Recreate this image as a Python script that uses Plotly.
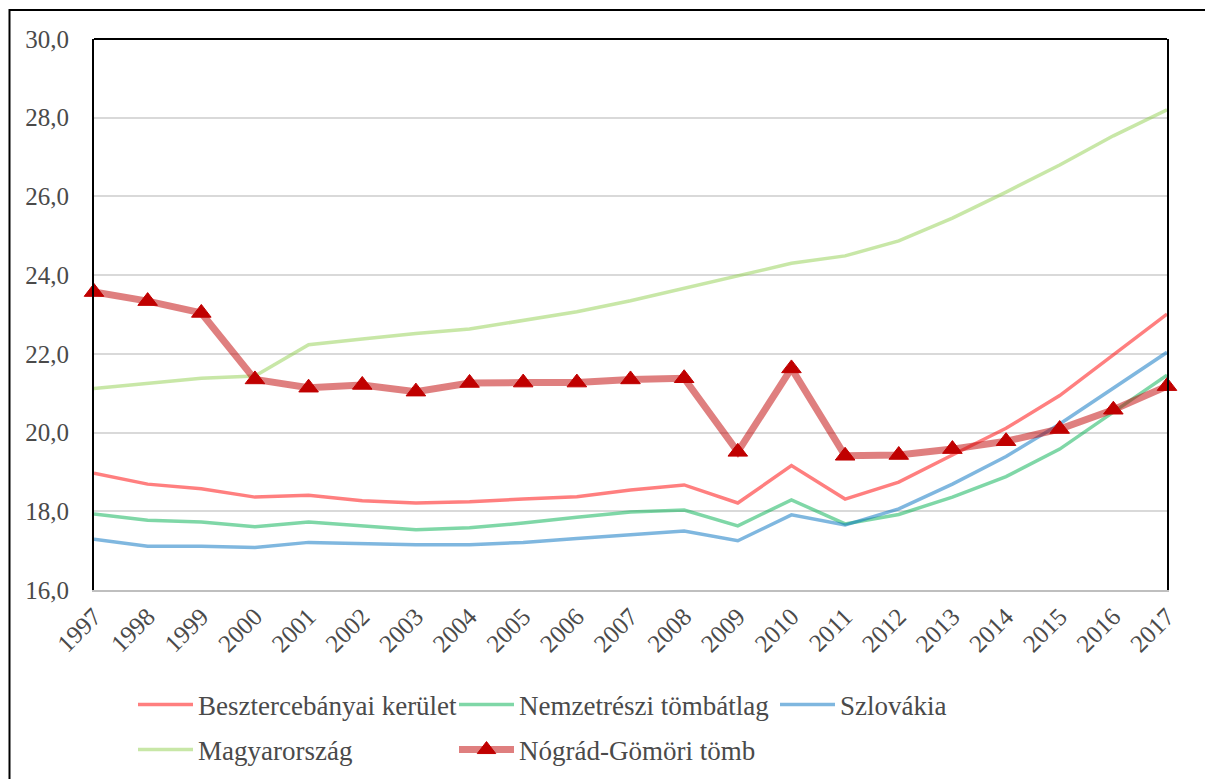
import plotly.graph_objects as go

# Years on the x axis
years = list(range(1997, 2018))

# Series values
besztercebanya = [18.97, 18.69, 18.57, 18.36, 18.41, 18.27, 18.21, 18.24, 18.31, 18.37,
                  18.54, 18.67, 18.21, 19.16, 18.31, 18.74, 19.43, 20.11, 20.94, 21.97, 23.01]
nemzetreszi = [17.93, 17.77, 17.73, 17.61, 17.73, 17.63, 17.53, 17.58, 17.70, 17.85,
               17.98, 18.03, 17.63, 18.29, 17.68, 17.92, 18.36, 18.88, 19.58, 20.52, 21.46]
szlovakia = [17.29, 17.11, 17.11, 17.08, 17.21, 17.17, 17.15, 17.15, 17.21, 17.31,
             17.40, 17.50, 17.25, 17.91, 17.65, 18.06, 18.69, 19.39, 20.22, 21.13, 22.04]
magyarorszag = [21.12, 21.25, 21.38, 21.44, 22.23, 22.38, 22.52, 22.63, 22.84, 23.07,
                23.35, 23.67, 24.00, 24.30, 24.49, 24.87, 25.45, 26.11, 26.80, 27.54, 28.20]
nograd_gomor = [23.57, 23.34, 23.04, 21.35, 21.14, 21.21, 21.04, 21.26, 21.27, 21.27,
                21.35, 21.38, 19.51, 21.63, 19.41, 19.43, 19.58, 19.78, 20.09, 20.58, 21.18]

y_ticks = [16, 18, 20, 22, 24, 26, 28, 30]

W, H = 1213, 779
OFF = 8  # page body margin
# target plot area on screen: x 94..1167, y 39..590
L, T = 94 - OFF, 39 - OFF
R = (W + OFF) - 1167
B = (H + OFF) - 590
font_family = "Liberation Serif, Times New Roman, serif"
text_color = '#4a4a4a'

fig = go.Figure()

thin = [
    ('Besztercebányai kerület', besztercebanya, 'rgba(255,0,0,0.5)', 'legend'),
    ('Nemzetrészi tömbátlag', nemzetreszi, 'rgba(0,176,80,0.5)', 'legend'),
    ('Szlovákia', szlovakia, 'rgba(0,112,192,0.5)', 'legend'),
    ('Magyarország', magyarorszag, 'rgba(146,208,80,0.5)', 'legend2'),
]
for name, vals, color, leg in thin:
    fig.add_trace(go.Scatter(
        x=years, y=vals, name=name, mode='lines',
        line=dict(color=color, width=3.5),
        legend=leg
    ))

fig.add_trace(go.Scatter(
    x=years, y=nograd_gomor, name='Nógrád-Gömöri tömb', mode='lines+markers',
    line=dict(color='rgba(192,0,0,0.5)', width=7),
    marker=dict(symbol='triangle-up', size=17, color='#C00000',
                line=dict(color='#C00000', width=1)),
    legend='legend2',
    cliponaxis=False
))

def px_x(p):
    # screen x pixel -> paper coordinate
    return (p - 94) / (1167 - 94)

def px_y(p):
    # screen y pixel -> paper coordinate
    return (590 - p) / (590 - 39)

# Outer chart border (cut at the right/bottom edges)
fig.add_shape(type='rect', xref='paper', yref='paper',
              x0=px_x(OFF + 1.5), x1=px_x(1230), y0=px_y(800), y1=px_y(10),
              line=dict(color='black', width=2), layer='below')
# Top border of the plot area
fig.add_shape(type='line', xref='paper', yref='paper',
              x0=0, x1=1, y0=1, y1=1, line=dict(color='black', width=2))

legend_common = dict(
    orientation='h', xanchor='left', yanchor='middle',
    font=dict(family=font_family, size=27, color=text_color),
    bgcolor='rgba(0,0,0,0)', entrywidth=251, entrywidthmode='pixels',
    itemwidth=55, traceorder='normal'
)

fig.update_layout(
    width=W, height=H,
    margin=dict(l=L, r=R, t=T, b=B),
    paper_bgcolor='white',
    plot_bgcolor='white',
    separators=', ',
    font=dict(family=font_family, size=24, color=text_color),
    legend=dict(x=px_x(133), y=px_y(705), **legend_common),
    legend2=dict(x=px_x(133), y=px_y(750), **legend_common),
    xaxis=dict(
        range=[1997, 2017], tickmode='array', tickvals=years,
        ticktext=[str(y) for y in years], tickangle=-45,
        showgrid=False, zeroline=False,
        showline=True, linecolor='#BFBFBF', linewidth=2,
        ticks='', tickfont=dict(size=25, color=text_color)
    ),
    yaxis=dict(
        range=[16, 30], tickmode='array', tickvals=y_ticks,
        tickformat='.1f', showgrid=True, gridcolor='#D9D9D9', gridwidth=2,
        zeroline=False, showline=True, linecolor='black', linewidth=2,
        mirror=True, ticks='', ticklabelstandoff=18,
        tickfont=dict(size=25, color=text_color)
    ),
)

fig.write_html("out.html")
